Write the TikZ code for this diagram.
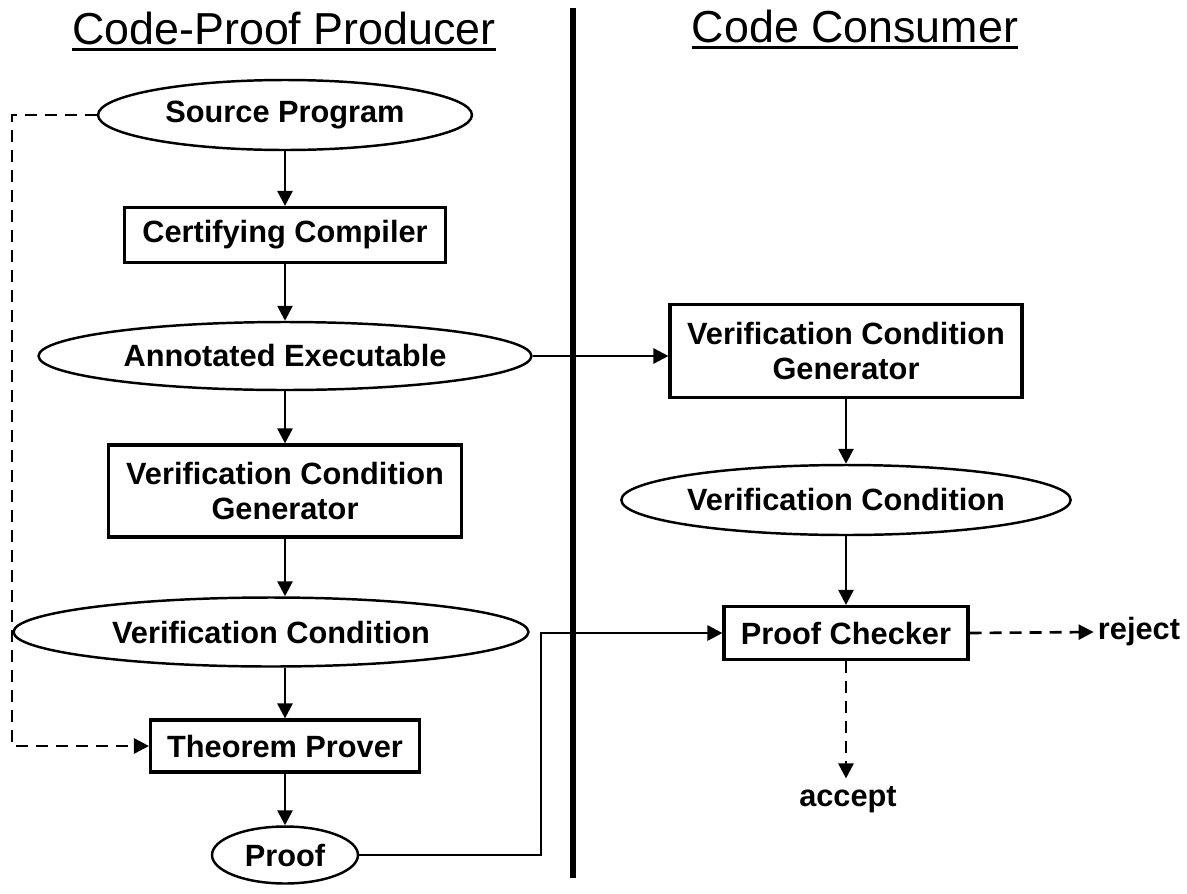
\documentclass[tikz,border=0pt]{standalone}
\usepackage{fontspec}
\setmainfont{Liberation Sans}
\usetikzlibrary{shapes.geometric, arrows.meta, positioning}

\begin{document}
\begin{tikzpicture}[
    x=0.02cm, y=-0.02cm,
    proc/.style={rectangle, draw=black, line width=1.8pt, inner sep=0pt,
                 font=\fontsize{17.5}{20}\selectfont\bfseries, align=center},
    data/.style={ellipse, draw=black, line width=1.4pt, inner sep=0pt,
                 font=\fontsize{17.5}{20}\selectfont\bfseries, align=center},
    lbl/.style={inner sep=0pt, font=\fontsize{17.5}{20}\selectfont\bfseries},
    heading/.style={inner sep=0pt, font=\fontsize{25.5}{30}\selectfont},
    arrow/.style={-{Triangle[length=0.3cm, width=0.3cm]}, line width=1.5pt},
    dasharrow/.style={arrow, dash pattern=on 0.24cm off 0.16cm}
]
\useasboundingbox (0,0) rectangle (1187,893);

% Headings
\node[heading, anchor=base] at (284,44) (hprod) {Code-Proof Producer};
\node[heading, anchor=base] at (855,42) (hcons) {Code Consumer};
\draw[line width=1.7pt] ([yshift=-0.11cm]hprod.base west) -- ([yshift=-0.11cm]hprod.base east);
\draw[line width=1.7pt] ([yshift=-0.11cm]hcons.base west) -- ([yshift=-0.11cm]hcons.base east);

% Separator
\coordinate (septop) at (573,8);
\coordinate (sepbot) at (573,878);
\draw[line width=3pt] (septop) -- (sepbot);

% Producer side
\node[data, minimum width=7.48cm, minimum height=1.4cm] at (285,115) (src) {Source Program};
\node[proc, minimum width=6.42cm, minimum height=1.1cm] at (285,235) (cc) {Certifying Compiler};
\node[data, minimum width=9.86cm, minimum height=1.36cm] at (285,356) (annot) {Annotated Executable};
\node[proc, minimum width=7.06cm, minimum height=1.84cm] at (285,491) (vcg) {Verification Condition\\Generator};
\node[data, minimum width=10.3cm, minimum height=1.38cm] at (271,632) (vc) {Verification Condition};
\node[proc, minimum width=5.38cm, minimum height=1.04cm] at (285,746) (tp) {Theorem Prover};
\node[data, minimum width=2.92cm, minimum height=1.14cm] at (285,855) (proof) {Proof};

% Consumer side
\node[proc, minimum width=7.04cm, minimum height=1.86cm] at (846,351) (rvcg) {Verification Condition\\Generator};
\node[data, minimum width=7.14cm, minimum height=1.4cm] at (846,500) (rvc) {Verification Condition};
\node[proc, minimum width=4.88cm, minimum height=1.06cm] at (846,633) (pc) {Proof Checker};
\node[lbl] at (1139,632) (reject) {reject};
\node[lbl] at (848,800) (accept) {accept};

% Producer flow
\draw[arrow] (src) -- (cc);
\draw[arrow] (cc) -- (annot);
\draw[arrow] (annot) -- (vcg);
\draw[arrow] (vcg) -- (vcg |- vc.north);
\draw[arrow] (vcg |- vc.south) -- (tp);
\draw[arrow] (tp) -- (proof);

% Source program to theorem prover
\coordinate (dl) at (12,115);
\draw[dasharrow] (src.west) -- (dl) |- (tp.west);

% Across the line
\draw[arrow] (annot.east) -- (annot.east -| rvcg.west);
\coordinate (pbend) at (541,855);
\draw[arrow] (proof.east) -- (pbend) |- (pc.west);

% Consumer flow
\draw[arrow] (rvcg) -- (rvc);
\draw[arrow] (rvc) -- (pc);
\draw[dasharrow] (pc.east) -- ([xshift=-0.08cm]reject.west);
\draw[dasharrow] (pc.south) -- ([yshift=0.16cm]pc.south |- accept.north);

\end{tikzpicture}
\end{document}
